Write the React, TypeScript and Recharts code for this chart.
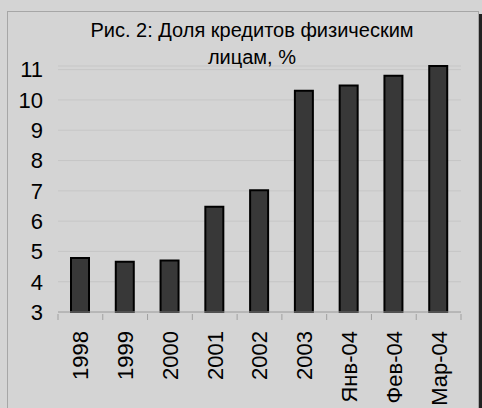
import React from "react";
import { BarChart, Bar, XAxis, YAxis, CartesianGrid } from "recharts";

const categories = ["1998", "1999", "2000", "2001", "2002", "2003", "Янв-04", "Фев-04", "Мар-04"];
const shares = [4.78, 4.66, 4.7, 6.47, 7.02, 10.3, 10.48, 10.8, 11.12];
const yTicks = [3, 4, 5, 6, 7, 8, 9, 10, 11];
const titleLines = ["Рис. 2: Доля кредитов физическим", "лицам, %"];

const data = categories.map((name, i) => ({ name, share: shares[i] }));

const FONT = "'Liberation Sans', Arial, sans-serif";
const PLOT_LEFT = 58;
const PLOT_RIGHT = 461;

// category label rotated upwards, with tick marks on the category edges
const CategoryTick = (props: any) => {
	const { x, y, payload, index } = props;
	const band = (PLOT_RIGHT - PLOT_LEFT) / categories.length;
	const left = x - band / 2;
	const right = x + band / 2;
	return (
		<g>
			<line x1={left} y1={y} x2={left} y2={y + 6} stroke="#a0a0a0" />
			{index === categories.length - 1 && (
				<line x1={right} y1={y} x2={right} y2={y + 6} stroke="#a0a0a0" />
			)}
			<text
				x={x}
				y={y + 17}
				transform={`rotate(-90, ${x}, ${y + 17})`}
				textAnchor="end"
				dy="0.36em"
				fontSize={22}
				fontFamily={FONT}
				fill="#000"
			>
				{payload.value}
			</text>
		</g>
	);
};

const App = () => {
	return (
		<div
			style={{
				position: "fixed",
				left: 0,
				top: 0,
				width: 482,
				height: 408,
				overflow: "hidden",
				background: "#d4d4d4",
			}}
		>
			<div
				style={{
					position: "absolute",
					left: 7,
					top: 11,
					width: 470,
					height: 420,
					border: "1px solid #a6a6a6",
					boxShadow: "3px 3px 0 #222",
				}}
			/>
			<div style={{ position: "absolute", left: 0, top: 0 }}>
				<BarChart
					width={482}
					height={408}
					data={data}
					margin={{ top: 66, right: 21, bottom: 0, left: 0 }}
					barSize={18}
				>
					<CartesianGrid vertical={false} stroke="#c6c6c6" strokeWidth={1} />
					<XAxis
						dataKey="name"
						height={96}
						axisLine={{ stroke: "#a0a0a0" }}
						tickLine={false}
						tickSize={0}
						interval={0}
						tick={<CategoryTick />}
					/>
					<YAxis
						domain={[3, 11]}
						ticks={yTicks}
						interval={0}
						width={58}
						axisLine={false}
						tickLine={false}
						tickSize={0}
						tickMargin={15}
						tick={{ fontSize: 22, fontFamily: FONT, fill: "#000" }}
					/>
					<Bar
						dataKey="share"
						fill="#383838"
						stroke="#000"
						strokeWidth={2}
						isAnimationActive={false}
					/>
					<text x={252} y={37} textAnchor="middle" fontSize={20} fontFamily={FONT} fill="#000">
						{titleLines[0]}
					</text>
					<text x={252} y={64} textAnchor="middle" fontSize={20} fontFamily={FONT} fill="#000">
						{titleLines[1]}
					</text>
				</BarChart>
			</div>
		</div>
	);
};

export default App;
